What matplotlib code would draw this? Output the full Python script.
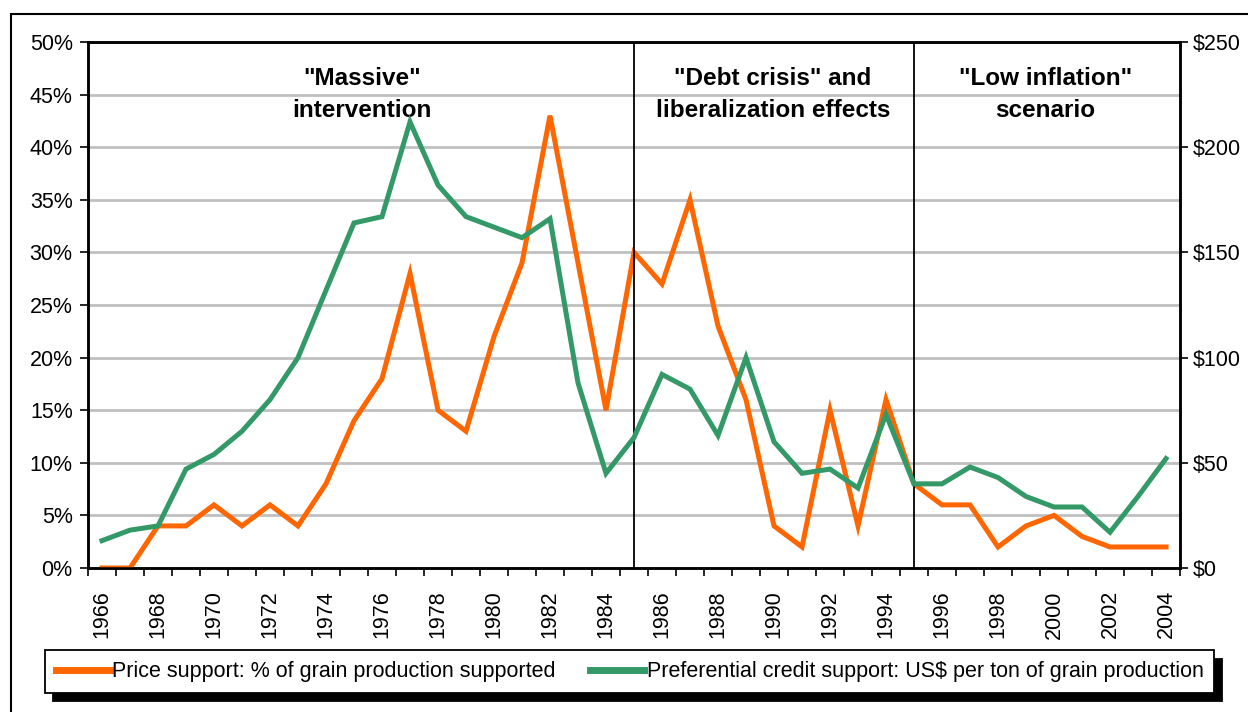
import matplotlib.pyplot as plt
import matplotlib.patches as mpatches
import numpy as np

plt.rcParams["font.family"] = ["Liberation Sans", "DejaVu Sans"]

years = list(range(1966, 2005))

# % of grain production supported (left axis)
price_support = [0, 0, 4, 4, 6, 4, 6, 4, 8, 14, 18, 28, 15, 13, 22, 29, 43, 29, 15,
                 30, 27, 35, 23, 16, 4, 2, 15, 4, 16, 8, 6, 6, 2, 4, 5, 3, 2, 2, 2]

# US$ per ton of grain production (right axis)
credit_support = [13, 18, 20, 47, 54, 65, 80, 100, 132, 164, 167, 212, 182, 167, 162,
                  157, 166, 88, 45, 62, 92, 85, 63, 100, 60, 45, 47, 38, 73, 40, 40,
                  48, 43, 34, 29, 29, 17, 34, 52]

period_labels = ['"Massive"\nintervention',
                 '"Debt crisis" and\nliberalization effects',
                 '"Low inflation"\nscenario']
period_breaks = [1985, 1995]

ORANGE = "#FF6600"
GREEN = "#339966"
FS = 15.5

W, H = 1248, 712
fig = plt.figure(figsize=(W / 100, H / 100), dpi=100)

# outer frame of the chart area
fig.patches.append(mpatches.Rectangle((11 / W, -0.1), 1.2, (712 - 14) / H + 0.1,
                                      transform=fig.transFigure, fill=False,
                                      edgecolor="black", linewidth=1.5))

ax = fig.add_axes([88 / W, (H - 568) / H, (1180 - 88) / W, (568 - 42) / H])
x = np.arange(len(years))

ax.set_xlim(-0.5, len(years) - 0.5)
ax.set_ylim(0, 50)
ax.set_yticks(np.arange(0, 51, 5))
ax.set_yticklabels([f"{v}%" for v in range(0, 51, 5)])
ax.yaxis.grid(True, color="#C0C0C0", linewidth=2)
ax.set_axisbelow(True)

ax.set_xticks(x[::2])
ax.set_xticklabels([str(y) for y in years[::2]], rotation=90)
ax.set_xticks(np.arange(-0.5, len(years), 1), minor=True)
ax.tick_params(axis="x", which="major", length=0, pad=16, labelsize=FS)
ax.tick_params(axis="x", which="minor", length=6, width=1.2, direction="out")
ax.tick_params(axis="y", length=6, width=1.2, labelsize=FS, pad=5)

for s in ax.spines.values():
    s.set_linewidth(1.8)

ax2 = ax.twinx()
ax2.set_ylim(0, 250)
ax2.set_yticks(np.arange(0, 251, 50))
ax2.set_yticklabels([f"${v}" for v in range(0, 251, 50)])
ax2.tick_params(axis="y", length=6, width=1.2, labelsize=FS, pad=3)
for s in ax2.spines.values():
    s.set_linewidth(1.8)

l1, = ax.plot(x, price_support, color=ORANGE, linewidth=3.6, solid_joinstyle="miter",
              label="Price support: % of grain production supported", zorder=3)
l2, = ax2.plot(x, credit_support, color=GREEN, linewidth=3.6, solid_joinstyle="miter",
               label="Preferential credit support: US$ per ton of grain production", zorder=3)

for b in period_breaks:
    ax.axvline(years.index(b), color="black", linewidth=1.3, zorder=4)

label_x = [9.3, 23.96, 33.7]
for lx, txt in zip(label_x, period_labels):
    ax.text(lx, 47.6, txt, ha="center", va="top", fontsize=17.5, fontweight="bold",
            linespacing=1.5)

leg = fig.legend(handles=[l1, l2], loc="lower left",
                 bbox_to_anchor=(45 / W, (H - 693) / H), ncol=2, fontsize=FS,
                 frameon=True, fancybox=False, borderpad=0.5, borderaxespad=0,
                 handlelength=2.5, handletextpad=0.12, columnspacing=1.6,
                 shadow={"color": "black", "alpha": 1, "ox": 6, "oy": -6})
leg.get_frame().set_edgecolor("black")
leg.get_frame().set_linewidth(1.3)
for h in leg.get_lines():
    h.set_linewidth(5)

fig.savefig("out.png", dpi=100)
